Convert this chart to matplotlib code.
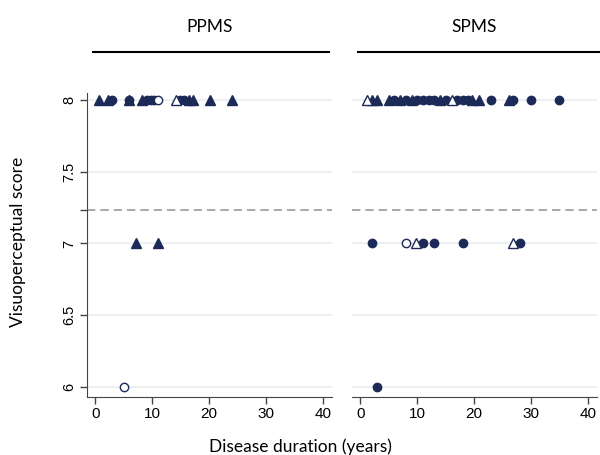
import matplotlib
matplotlib.use("Agg")
import matplotlib.pyplot as plt

# ---- data ----
panels = ["PPMS", "SPMS"]
# marker kinds: "fc" filled circle, "oc" open circle, "ft" filled triangle, "ot" open triangle
ppms_duration = [0.6, 2.2, 2.9, 6.0, 6.0, 8.2, 9.1, 9.8, 10.4, 11.1, 14.1, 14.9, 15.6, 16.4, 17.2, 20.1, 24.0,
                 7.1, 11.1,
                 5.1]
ppms_score = [8]*17 + [7, 7] + [6]
ppms_kind = ["ft", "ft", "fc", "ft", "fc", "ft", "fc", "fc", "fc", "oc", "ot", "fc", "fc", "ft", "ft", "ft", "ft",
             "ft", "ft",
             "oc"]

spms_duration = [1.2, 2.1, 3.0, 5.0, 6.0, 7.0, 8.0, 9.0, 10.0, 11.0, 12.0, 13.0, 14.0, 15.0, 16.1, 17.0, 18.0,
                 19.0, 19.7, 20.8, 23.0, 26.1, 26.9, 30.0, 34.9,
                 2.0, 8.0, 9.8, 11.0, 13.0, 18.0, 26.8, 28.0,
                 3.0]
spms_score = [8]*25 + [7]*8 + [6]
spms_kind = ["ot", "ft", "ft", "ft", "fc", "ft", "fc", "ft", "fc", "fc", "fc", "fc", "ft", "fc", "ot", "fc", "fc",
             "fc", "ft", "ft", "fc", "ft", "fc", "fc", "fc",
             "fc", "oc", "ot", "fc", "fc", "fc", "ot", "fc",
             "fc"]

ref_line = 7.233
yticks = [6, 6.5, 7, 7.5, 8]
ytick_labels = ["6", "6.5", "7", "7.5", "8"]
xticks = [0, 10, 20, 30, 40]

navy = "#1c2a58"
style = {
    "fc": dict(marker="o", mfc=navy, mec=navy),
    "oc": dict(marker="o", mfc="white", mec=navy),
    "ft": dict(marker="^", mfc=navy, mec=navy),
    "ot": dict(marker="^", mfc="white", mec=navy),
}

fig = plt.figure(figsize=(6, 4.55), dpi=100)
axL = fig.add_axes([87/600, 58/455, 245/600, 304/455])
axR = fig.add_axes([352/600, 58/455, 245/600, 304/455])

data = [(ppms_duration, ppms_score, ppms_kind), (spms_duration, spms_score, spms_kind)]
tick_font = "Liberation Sans"
label_font = "Lato"

for i, (ax, title, (dur, sc, kd)) in enumerate(zip([axL, axR], panels, data)):
    ax.set_xlim(-1.46, 41.6)
    ax.set_ylim(5.93, 8.049)
    for y in yticks:
        ax.axhline(y, color="#e8eef0", lw=1.2, zorder=0)
    ax.axhline(ref_line, color="#999999", lw=1.2, ls=(0, (5, 3)), zorder=1)
    for k in ["fc", "oc", "ft", "ot"]:
        xs = [d for d, kk in zip(dur, kd) if kk == k]
        ys = [s for s, kk in zip(sc, kd) if kk == k]
        ms = 6.0 if k in ("fc", "oc") else 6.6
        ax.plot(xs, ys, ls="none", ms=ms, mew=1.0, zorder=3, **style[k])
    ax.set_xticks(xticks)
    ax.set_xticklabels([str(t) for t in xticks], fontsize=11, family=tick_font)
    ax.tick_params(axis="x", direction="out", length=5, width=1, color="#444444", pad=2)
    for s in ["top", "right"]:
        ax.spines[s].set_visible(False)
    ax.spines["bottom"].set_color("#444444")
    ax.spines["left"].set_color("#444444")
    ax.set_facecolor("white")
    # header
    ax.plot([0.024, 0.988 if i == 0 else 1.03], [1.135, 1.135], transform=ax.transAxes,
            color="black", lw=1.5, clip_on=False)
    ax.text(0.5, 1.217, title, transform=ax.transAxes, ha="center", va="center",
            fontsize=12.5, family=label_font)

axL.set_yticks(yticks + [ref_line])
axL.set_yticklabels(ytick_labels + [""], fontsize=10.5, family=tick_font, rotation=90, va="center")
axL.tick_params(axis="y", direction="out", length=5, width=1, color="#444444", pad=3)
axR.set_yticks([])
axR.spines["left"].set_visible(False)

fig.text(300/600, 1 - 447/455, "Disease duration (years)", ha="center", va="center",
         fontsize=12.5, family=label_font)
fig.text(18/600, 1 - 242/455, "Visuoperceptual score", ha="center", va="center",
         rotation=90, fontsize=12.5, family=label_font)

fig.savefig("out.png", dpi=100, facecolor="white")
